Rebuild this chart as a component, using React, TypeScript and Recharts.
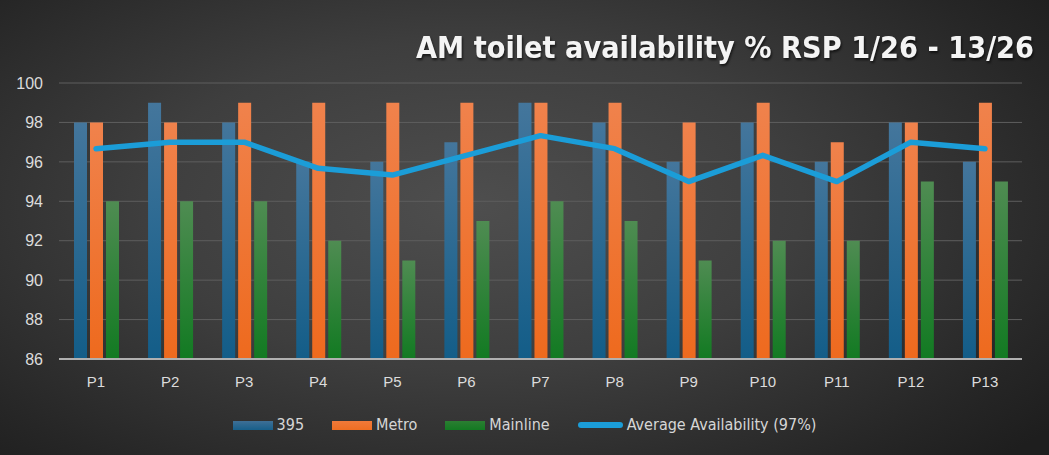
import {
  ComposedChart,
  Bar,
  Line,
  XAxis,
  YAxis,
  CartesianGrid,
} from "recharts";

const periods = ["P1", "P2", "P3", "P4", "P5", "P6", "P7", "P8", "P9", "P10", "P11", "P12", "P13"];
const line395 = [98, 99, 98, 96, 96, 97, 99, 98, 96, 98, 96, 98, 96];
const metro = [98, 98, 99, 99, 99, 99, 99, 99, 98, 99, 97, 98, 99];
const mainline = [94, 94, 94, 92, 91, 93, 94, 93, 91, 92, 92, 95, 95];
const average = [96.67, 97, 97, 95.67, 95.33, 96.33, 97.33, 96.67, 95, 96.33, 95, 97, 96.67];
const yTicks = [86, 88, 90, 92, 94, 96, 98, 100];

const data = periods.map((p, i) => ({
  name: p,
  r395: line395[i],
  metro: metro[i],
  mainline: mainline[i],
  avg: average[i],
}));

const TICK_FONT = "'Liberation Sans', Arial, sans-serif";
const CONDENSED = "'DejaVu Sans Condensed', 'Liberation Sans Narrow', 'Roboto Condensed', 'DejaVu Sans', sans-serif";

// legend swatches: plain colours, gradients live in the chart defs
const legendItems = [
  { label: "395", kind: "bar", top: "#3e6f96", bottom: "#175f8a" },
  { label: "Metro", kind: "bar", top: "#f07a3a", bottom: "#ee6d22" },
  { label: "Mainline", kind: "bar", top: "#2b7e32", bottom: "#137a22" },
  { label: "Average Availability (97%)", kind: "line", top: "#1b9dd8", bottom: "#1b9dd8" },
];

function ChartLegend() {
  return (
    <div
      style={{
        position: "absolute",
        left: 0,
        top: 413,
        width: 1049,
        display: "flex",
        justifyContent: "center",
        alignItems: "center",
        gap: 28,
      }}
    >
      {legendItems.map((it) => (
        <div key={it.label} style={{ display: "flex", alignItems: "center", gap: 4 }}>
          {it.kind === "bar" ? (
            <div
              style={{
                width: 40,
                height: 9,
                background: `linear-gradient(${it.top}, ${it.bottom})`,
              }}
            />
          ) : (
            <div style={{ width: 45, height: 6, borderRadius: 3, background: it.top }} />
          )}
          <span style={{ color: "#d6d6d6", fontSize: 16, fontFamily: CONDENSED, lineHeight: "24px" }}>
            {it.label}
          </span>
        </div>
      ))}
    </div>
  );
}

export default function App() {
  return (
    <div
      style={{
        position: "absolute",
        left: 0,
        top: 0,
        width: 1049,
        height: 455,
        background:
          "radial-gradient(ellipse 70% 80% at 45% 45%, #4e4e4e 0%, #3e3e3e 45%, #262626 85%, #1e1e1e 100%)",
        overflow: "hidden",
      }}
    >
      <svg
        width={1049}
        height={70}
        style={{ position: "absolute", left: 0, top: 0, filter: "drop-shadow(1px 2px 1px rgba(0,0,0,0.6))" }}
      >
        <text
          x={1034}
          y={58}
          textAnchor="end"
          fill="#f4f4f4"
          fontSize={31}
          fontWeight="bold"
          fontFamily={CONDENSED}
          textLength={618}
          lengthAdjust="spacingAndGlyphs"
        >
          AM toilet availability  % RSP 1/26 - 13/26
        </text>
      </svg>
      <ComposedChart
        width={1049}
        height={455}
        data={data}
        margin={{ top: 83, right: 27, bottom: 56, left: 0 }}
        barSize={13}
        barGap={3}
        style={{ position: "absolute", left: 0, top: 0 }}
      >
        <defs>
          <linearGradient id="gBlue" x1="0" y1="0" x2="0" y2="1">
            <stop offset="0" stopColor="#44769c" />
            <stop offset="1" stopColor="#135d88" />
          </linearGradient>
          <linearGradient id="gOrange" x1="0" y1="0" x2="0" y2="1">
            <stop offset="0" stopColor="#f0824c" />
            <stop offset="1" stopColor="#ee6a1e" />
          </linearGradient>
          <linearGradient id="gGreen" x1="0" y1="0" x2="0" y2="1">
            <stop offset="0" stopColor="#4f8c52" />
            <stop offset="1" stopColor="#127a22" />
          </linearGradient>
        </defs>
        <CartesianGrid vertical={false} stroke="#5e5e5e" strokeWidth={1} />
        <XAxis
          dataKey="name"
          axisLine={{ stroke: "#b0b0b0", strokeWidth: 2 }}
          tickLine={false}
          tickSize={0}
          tickMargin={17}
          height={40}
          tick={{ fill: "#dcdcdc", fontSize: 15, fontFamily: TICK_FONT }}
        />
        <YAxis
          domain={[86, 100]}
          ticks={yTicks}
          axisLine={false}
          tickLine={false}
          tickSize={0}
          tickMargin={16}
          width={59}
          tick={{ fill: "#dcdcdc", fontSize: 16, fontFamily: TICK_FONT }}
        />
        <Bar dataKey="r395" name="395" fill="url(#gBlue)" isAnimationActive={false} />
        <Bar dataKey="metro" name="Metro" fill="url(#gOrange)" isAnimationActive={false} />
        <Bar dataKey="mainline" name="Mainline" fill="url(#gGreen)" isAnimationActive={false} />
        <Line
          dataKey="avg"
          name="Average Availability (97%)"
          stroke="#1b9dd8"
          strokeWidth={5.5}
          strokeLinejoin="round"
          strokeLinecap="round"
          dot={false}
          activeDot={false}
          type="linear"
          isAnimationActive={false}
        />
      </ComposedChart>
      <ChartLegend />
    </div>
  );
}
